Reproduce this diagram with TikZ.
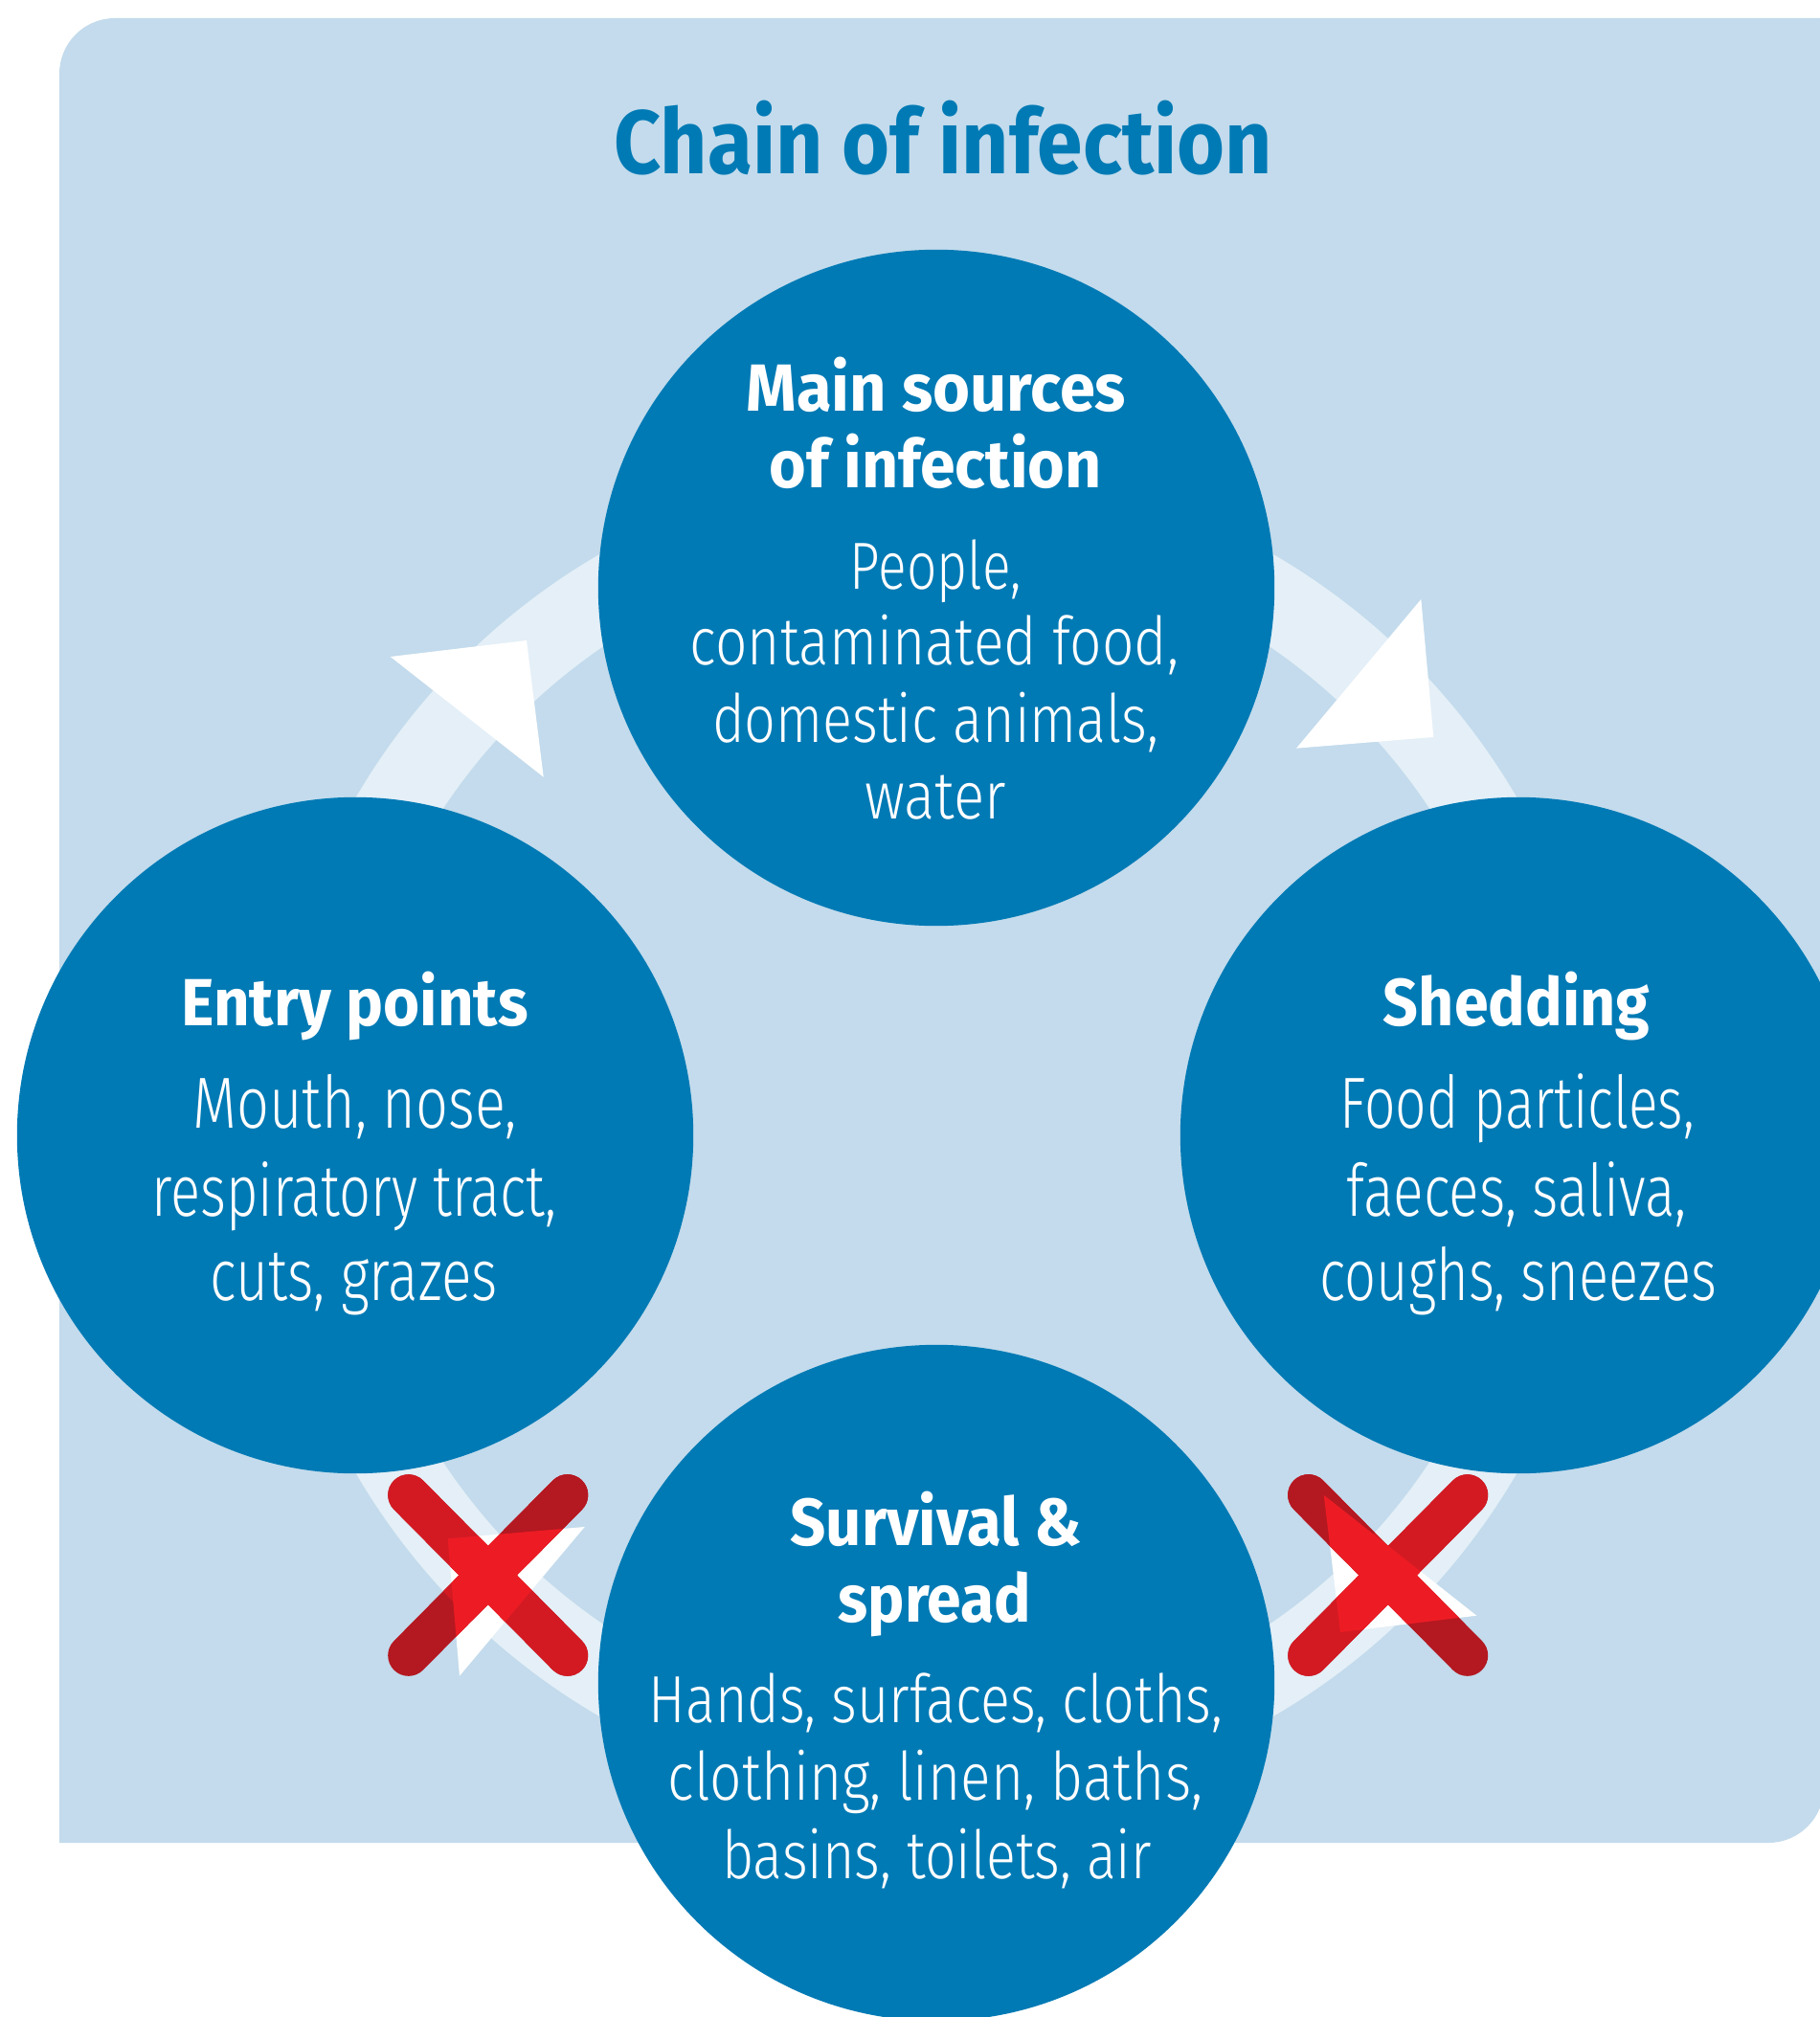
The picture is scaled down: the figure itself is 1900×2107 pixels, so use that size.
\documentclass[tikz,border=0pt]{standalone}
\usepackage{fontspec}
\setmainfont{Fira Sans Light}[BoldFont={Fira Sans Bold}]
\usepackage{graphicx}
\definecolor{bgblue}{HTML}{C3DBEC}
\definecolor{ringc}{HTML}{E4EFF7}
\definecolor{cblue}{HTML}{007AB5}
\definecolor{xdark}{HTML}{B41821}
\definecolor{xmid}{HTML}{D31A23}
\definecolor{xbright}{HTML}{ED1C24}
\newcommand\fw[2]{\resizebox{#1}{\height}{#2}}
\begin{document}
\begin{tikzpicture}[x=0.01cm,y=-0.01cm,
  circ/.style={circle, fill=cblue, draw=none, minimum size=7.06cm, inner sep=0pt},
  body/.style={anchor=base, inner sep=0pt, outer sep=0pt, text=white, font=\fontsize{19.8}{21}\selectfont},
  bodyw/.style={anchor=base, inner sep=0pt, outer sep=0pt, text=white, font=\fontsize{21.5}{23}\selectfont},
  head/.style={anchor=base, inner sep=0pt, outer sep=0pt, text=white, font=\fontsize{19.8}{21}\selectfont\bfseries},
  titlestyle/.style={anchor=base, inner sep=0pt, outer sep=0pt, text=cblue, font=\fontsize{26.8}{28}\selectfont\bfseries},
  xmark/.style={line width=0.43cm, line cap=round}]
\useasboundingbox (0,0) rectangle (1900,2107);
\fill[white] (0,0) rectangle (1900,2107);
% background panel
\fill[bgblue] (62,1925) -- (62,77) .. controls (62,45) and (88,19) .. (120,19) -- (1905,19) -- (1905,1867) .. controls (1905,1899) and (1879,1925) .. (1847,1925) -- cycle;
% ring
\draw[ringc, line width=0.835cm] (978,1186) circle[radius=6.593cm];
% arrowheads
\fill[white] (407.7,686) -- (550,669) -- (567.7,811.7) -- cycle;
\fill[white] (1484.3,626) -- (1497.3,770) -- (1354,781.7) -- cycle;
\fill[white] (467.7,1607.3) -- (610.7,1595) -- (480,1750.7) -- cycle;
\fill[white] (1382.7,1561.7) -- (1542.3,1687.7) -- (1400,1705) -- cycle;
% circles
\node[circ] (src) at (978,614) {};
\node[circ] (entry) at (371,1186) {};
\node[circ] (shed) at (1586,1186) {};
\node[circ] (surv) at (978,1758) {};
% left cross
\coordinate (la1) at (426.7,1561.7);
\coordinate (la2) at (592.7,1729.3);
\coordinate (lb1) at (592.7,1561.7);
\coordinate (lb2) at (426.7,1729.3);
\draw[xmark, xdark] (la1) -- (la2) (lb1) -- (lb2);
\begin{scope}
\clip (978,1186) circle[radius=7.01cm];
\draw[xmark, xmid] (la1) -- (la2) (lb1) -- (lb2);
\end{scope}
\begin{scope}
\clip (978,1186) circle[radius=6.175cm];
\draw[xmark, xdark] (la1) -- (la2) (lb1) -- (lb2);
\end{scope}
\begin{scope}
\clip (467.7,1607.3) -- (610.7,1595) -- (480,1750.7) -- cycle;
\draw[xmark, xbright] (la1) -- (la2) (lb1) -- (lb2);
\end{scope}
% right cross
\coordinate (ra1) at (1366.7,1561.7);
\coordinate (ra2) at (1532.7,1729.3);
\coordinate (rb1) at (1532.7,1561.7);
\coordinate (rb2) at (1366.7,1729.3);
\draw[xmark, xdark] (ra1) -- (ra2) (rb1) -- (rb2);
\begin{scope}
\clip (978,1186) circle[radius=7.01cm];
\draw[xmark, xmid] (ra1) -- (ra2) (rb1) -- (rb2);
\end{scope}
\begin{scope}
\clip (978,1186) circle[radius=6.175cm];
\draw[xmark, xdark] (ra1) -- (ra2) (rb1) -- (rb2);
\end{scope}
\begin{scope}
\clip (1382.7,1561.7) -- (1542.3,1687.7) -- (1400,1705) -- cycle;
\draw[xmark, xbright] (ra1) -- (ra2) (rb1) -- (rb2);
\end{scope}
% title
\node[titlestyle] (title) at (985,182) {\fw{6.87cm}{Chain of infection}};
% top circle text
\node[head] (src1) at (978,430) {\fw{3.96cm}{Main sources}};
\node[head] (src2) at (977,510) {\fw{3.47cm}{of infection}};
\node[body] (src3) at (977,615.7) {\fw{1.787cm}{People,}};
\node[body] (src4) at (976,695) {\fw{5.10cm}{contaminated food,}};
\node[body] (src5) at (977,776) {\fw{4.657cm}{domestic animals,}};
\node[body] (src6) at (977,855) {\fw{1.475cm}{water}};
% left circle text
\node[head] (ent1) at (370.5,1071.7) {\fw{3.62cm}{Entry points}};
\node[bodyw] (ent2) at (370.8,1178.3) {\fw{3.38cm}{Mouth, nose,}};
\node[bodyw] (ent3) at (370,1270) {\fw{4.23cm}{respiratory tract,}};
\node[bodyw] (ent4) at (370,1358) {\fw{3.00cm}{cuts, grazes}};
% right circle text
\node[head] (shd1) at (1584,1071.7) {\fw{2.78cm}{Shedding}};
\node[bodyw] (shd2) at (1585,1178.3) {\fw{3.70cm}{Food particles,}};
\node[bodyw] (shd3) at (1584,1270) {\fw{3.55cm}{faeces, saliva,}};
\node[bodyw] (shd4) at (1585.8,1358) {\fw{4.15cm}{coughs, sneezes}};
% bottom circle text
\node[head] (sur1) at (977.6,1614) {\fw{3.04cm}{Survival \&}};
\node[head] (sur2) at (976.5,1694) {\fw{2.017cm}{spread}};
\node[body] (sur3) at (977.5,1799.3) {\fw{5.99cm}{Hands, surfaces, cloths,}};
\node[body] (sur4) at (977,1880.7) {\fw{5.583cm}{clothing, linen, baths,}};
\node[body] (sur5) at (978.4,1962) {\fw{4.484cm}{basins, toilets, air}};
\end{tikzpicture}
\end{document}
